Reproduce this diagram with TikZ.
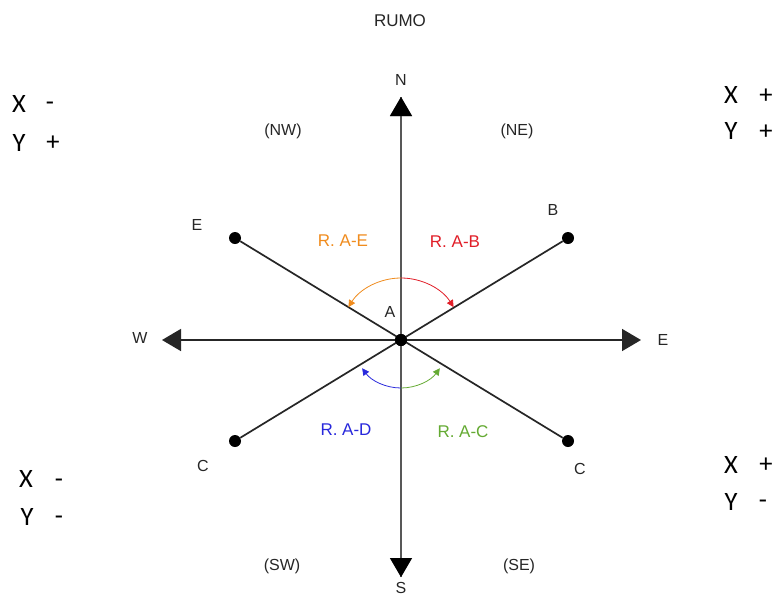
\documentclass[tikz,border=0pt]{standalone}
\usepackage{fontspec}
\setmainfont{Liberation Sans}
\newfontfamily\cornerfont{Carlito}
\usetikzlibrary{arrows.meta}
\definecolor{cOr}{RGB}{240,140,30}
\definecolor{cRe}{RGB}{225,30,40}
\definecolor{cBl}{RGB}{40,40,220}
\definecolor{cGr}{RGB}{100,170,50}
\definecolor{axgray}{RGB}{110,110,110}
\tikzset{
  lbl/.style={font=\fontsize{16}{18}\selectfont, text=black!85, inner sep=0pt},
  rlbl/.style={font=\fontsize{17}{19}\selectfont, inner sep=0pt},
  corner/.style={font=\cornerfont\fontsize{26.5}{28}\selectfont, inner sep=0pt},
  dotnode/.style={circle, fill=black, minimum size=12pt, inner sep=0pt},
  axis/.style={line width=1.6pt, -{Triangle[length=19pt,width=22pt]}},
  ray/.style={line width=1.7pt, black!85},
  ang/.style={line width=0.8pt, -{Triangle[length=7pt,width=7pt]}}
}
\begin{document}
\begin{tikzpicture}[x=1pt,y=-1pt]
\useasboundingbox (0,0) rectangle (777,598);
\fill[white] (0,0) rectangle (777,598);
% center and endpoints
\node[dotnode] (A) at (401,340) {};
\node[dotnode] (pE) at (235,238) {};
\node[dotnode] (pB) at (568,238) {};
\node[dotnode] (pCl) at (235,441) {};
\node[dotnode] (pCr) at (568,441) {};
\coordinate (tN) at (401,97);
\coordinate (tS) at (401,577);
\coordinate (tW) at (162,340);
\coordinate (tE) at (641,340);
% axes
\draw[axis, axgray!80!black] (401,577) -- (tN);
\draw[axis, axgray!80!black] (401,97) -- (tS);
\fill[black] (tN) -- ++(-11,19) -- ++(22,0) -- cycle;
\fill[black] (tS) -- ++(-11,-19) -- ++(22,0) -- cycle;
\draw[axis, black!85] (A.center) -- (tW);
\draw[axis, black!85] (A.center) -- (tE);
% rays
\draw[ray] (pE) -- (pCr);
\draw[ray] (pB) -- (pCl);
\node[dotnode] at (401,340) {};
% angle arcs
\draw[ang, cOr] (401,278) arc[start angle=-90, end angle=-148, radius=62];
\draw[ang, cRe] (401,278) arc[start angle=-90, end angle=-32, radius=62];
\draw[ang, cBl] (401,388) arc[start angle=90, end angle=144, radius=48];
\draw[ang, cGr] (401,388) arc[start angle=90, end angle=36, radius=48];
% labels
\node[lbl, font=\fontsize{17}{19}\selectfont] (rumo) at (400,21) {RUMO};
\node[lbl] (lN) at (401,80) {N};
\node[lbl] (lS) at (401,588) {S};
\node[lbl] (lW) at (140,338) {W};
\node[lbl] (lEast) at (663,340) {E};
\node[lbl] (lA) at (390,312) {A};
\node[lbl] (lE) at (197,225) {E};
\node[lbl] (lB) at (553,210) {B};
\node[lbl] (lCl) at (203,466) {C};
\node[lbl] (lCr) at (580,469) {C};
\node[lbl] (nw) at (283,131) {(NW)};
\node[lbl] (ne) at (517,131) {(NE)};
\node[lbl] (sw) at (282,566) {(SW)};
\node[lbl] (se) at (519,566) {(SE)};
\node[rlbl, text=cOr] (rae) at (343,241) {R. A-E};
\node[rlbl, text=cRe] (rab) at (455,242) {R. A-B};
\node[rlbl, text=cBl] (rad) at (346,430) {R. A-D};
\node[rlbl, text=cGr] (rac) at (463,432) {R. A-C};
% corners
\node[corner] (c1x) at (19,104) {X};
\node[corner] (c1xs) at (50,106) {-};
\node[corner] (c1y) at (19,143) {Y};
\node[corner] (c1ys) at (53,143) {+};
\node[corner] (c2x) at (731,95) {X};
\node[corner] (c2xs) at (766,96) {+};
\node[corner] (c2y) at (731,131) {Y};
\node[corner] (c2ys) at (766,132) {+};
\node[corner] (c3x) at (26,479) {X};
\node[corner] (c3xs) at (59,483) {-};
\node[corner] (c3y) at (27,517) {Y};
\node[corner] (c3ys) at (59,520) {-};
\node[corner] (c4x) at (731,465) {X};
\node[corner] (c4xs) at (766,465) {+};
\node[corner] (c4y) at (731,502) {Y};
\node[corner] (c4ys) at (763,504) {-};
\end{tikzpicture}
\end{document}
